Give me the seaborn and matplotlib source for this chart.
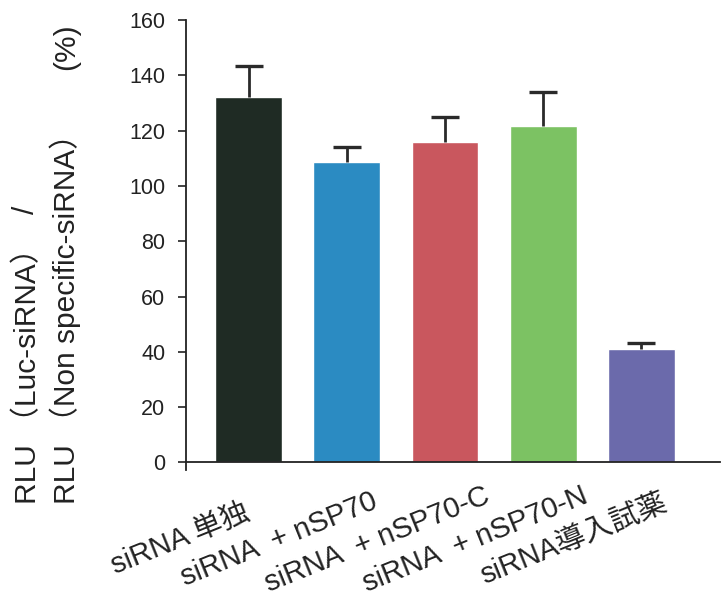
import numpy as np
import pandas as pd
import matplotlib
matplotlib.use("Agg")
import matplotlib.pyplot as plt
import matplotlib.transforms as mtransforms
import seaborn as sns

# data
groups = ["siRNA 単独", "siRNA  + nSP70", "siRNA  + nSP70-C",
          "siRNA  + nSP70-N", "siRNA導入試薬"]
rlu_pct = [132, 108.5, 116, 121.5, 41]
rlu_err = [11.5, 5.5, 9, 12.5, 2.2]
bar_colors = ["#1f2b24", "#2b8bc2", "#c9575e", "#7cc263", "#6b6aab"]

sns.set_style("white")
plt.rcParams["font.family"] = ["Liberation Sans", "Noto Sans CJK JP"]

df = pd.DataFrame({"group": groups, "value": rlu_pct})

fig = plt.figure(figsize=(7.22, 6), dpi=100)
ax = fig.add_axes([0.2576, 0.2172, 0.7396, 0.7495])

sns.barplot(data=df, x="group", y="value", hue="group", palette=bar_colors,
            width=0.68, legend=False, ax=ax, saturation=1)

# upper error bars only (hide the lower cap)
_, caps, _ = ax.errorbar(np.arange(len(groups)), rlu_pct,
                         yerr=[np.zeros(len(rlu_err)), rlu_err],
                         fmt="none", ecolor="#2a2a2a", elinewidth=2,
                         capsize=10, capthick=2.4)
caps[0].set_visible(False)

ax.set_xlim(-0.638, 4.8)
ax.set_ylim(-2.6, 160)
ax.set_yticks(range(0, 161, 20))
ax.spines["top"].set_visible(False)
ax.spines["right"].set_visible(False)
ax.spines["bottom"].set_position(("data", 0))
ax.spines["left"].set_bounds(-2.6, 160)
for s in ["left", "bottom"]:
    ax.spines[s].set_color("#222222")
    ax.spines[s].set_linewidth(1.3)

ax.tick_params(axis="y", direction="out", length=6, width=1.2,
               pad=9, labelsize=15.5, labelcolor="#222222", color="#222222",
               left=True)
ax.tick_params(axis="x", length=0, pad=0)
ax.set_xlabel("")
ax.set_ylabel("")
ax.set_xticks(range(len(groups)))
ax.set_xticklabels(groups, rotation=22, ha="center", va="center",
                   rotation_mode="anchor", fontsize=21, color="#222222")
shift = mtransforms.ScaledTranslation(-0.68, -0.77, fig.dpi_scale_trans)
for lbl in ax.get_xticklabels():
    lbl.set_transform(lbl.get_transform() + shift)

# two-line y label
ylab = dict(rotation=90, ha="center", va="bottom", fontsize=21.5,
            color="#222222")
fig.text(28 / 722, (600 - 504) / 600, "RLU （Luc-siRNA）", **ylab)
fig.text(26 / 722, (600 - 214) / 600, "/", **ylab)
fig.text(65 / 722, (600 - 504) / 600, "RLU （Non specific-siRNA）", **ylab)
fig.text(66 / 722, (600 - 70) / 600, "(%)", **ylab)

fig.savefig("out.png", dpi=100)
